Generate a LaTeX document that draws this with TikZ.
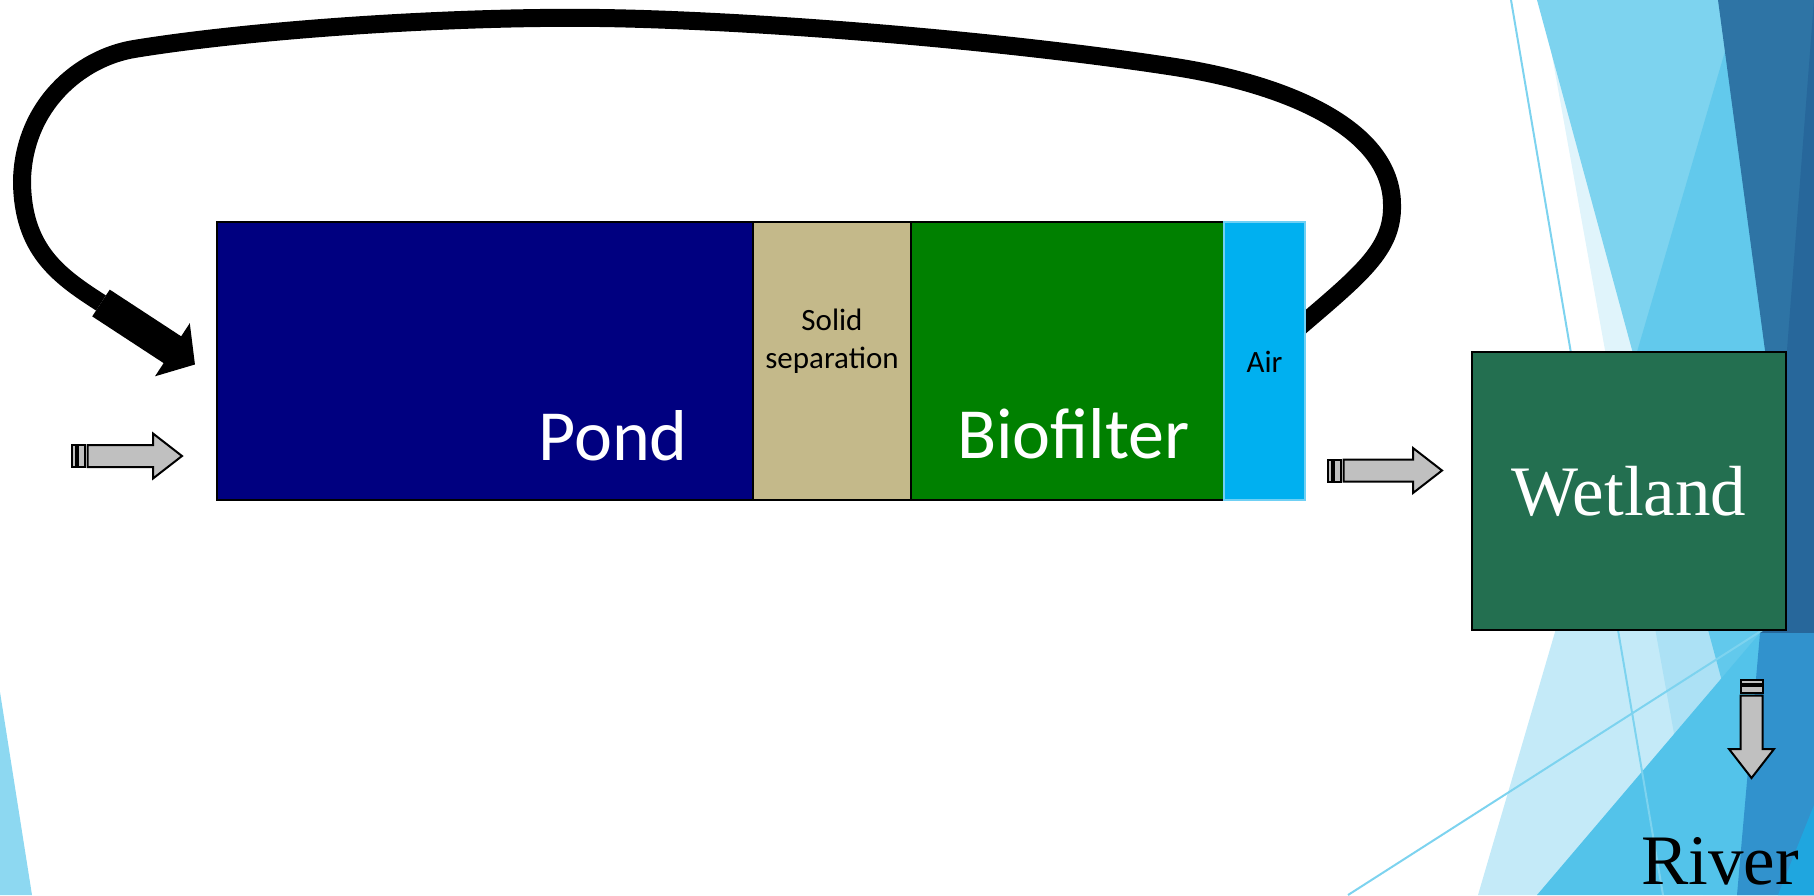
\documentclass[tikz,border=0pt]{standalone}
\usepackage{fontspec}
\newfontfamily\carlito{Carlito}
\newfontfamily\libserif{Liberation Serif}
\usetikzlibrary{arrows.meta}

\definecolor{pondblue}{HTML}{000080}
\definecolor{solidtan}{HTML}{C4B98A}
\definecolor{biogreen}{HTML}{008000}
\definecolor{aircyan}{HTML}{00B0F0}
\definecolor{airedge}{HTML}{6FD0F4}
\definecolor{wetgreen}{HTML}{236F50}
\definecolor{flowgray}{HTML}{C0C0C0}
\definecolor{facetpale}{HTML}{E0F4FB}
\definecolor{facetlight}{HTML}{7DD3EF}
\definecolor{facettint}{HTML}{13ACE4}
\definecolor{facetmid}{HTML}{53C3EA}
\definecolor{facetdark}{HTML}{2E74A5}
\definecolor{facetdeep}{HTML}{27679B}
\definecolor{facetband}{HTML}{3192CD}
\definecolor{facetbright}{HTML}{1FA6DF}
\definecolor{facetleft}{HTML}{8DD8F1}

\tikzset{
  tank/.style={draw=black, line width=2pt, inner sep=0pt, outer sep=0pt, anchor=north west, minimum height=278pt},
  bigtext/.style={font={\carlito\fontsize{72}{86}\selectfont}, white, inner sep=0pt, anchor=base},
  smalltext/.style={font={\carlito\fontsize{31}{38}\selectfont}, black, inner sep=0pt, align=center},
  seriftext/.style={font={\libserif\fontsize{71}{85}\selectfont}, inner sep=0pt},
  looptube/.style={line width=18pt, black},
  facetline/.style={draw=facetlight, line width=2pt},
  flowshape/.style={draw=black, fill=flowgray, line width=2pt},
  stripearrow/.pic={
    \draw[flowshape] (0,-11) rectangle (4.3,11);
    \draw[flowshape] (5.6,-11) rectangle (13.3,11);
    \draw[flowshape] (15.6,-11) -- ({#1-29},-11) -- ({#1-29},-22.5) -- (#1,0)
      -- ({#1-29},22.5) -- ({#1-29},11) -- (15.6,11) -- cycle;
  }
}

\begin{document}
\begin{tikzpicture}[x=1pt, y=-1pt]
    \useasboundingbox (0,0) rectangle (1814,895);

    % background facets
    \fill[facetleft] (0,692) -- (32,895) -- (0,895) -- cycle;
    \fill[facetpale] (1542,0) -- (1814,0) -- (1814,895) -- (1703,895) -- cycle;
    \fill[facetlight] (1537,0) -- (1814,0) -- (1814,895) -- (1780,895) -- cycle;
    \fill[facettint, opacity=0.25] (1740,0) -- (1814,0) -- (1814,895) -- (1478,895) -- cycle;
    \fill[facetdark] (1718,0) -- (1814,0) -- (1814,716) -- cycle;
    \fill[facetmid] (1537,895) -- (1760,633) -- (1814,633) -- (1814,895) -- cycle;
    \fill[facetdeep] (1814,0) -- (1787,350) -- (1760,633) -- (1814,633) -- cycle;
    \fill[facetband] (1760,633) -- (1814,633) -- (1814,895) -- (1737,895) -- cycle;
    \fill[facetbright] (1814,805) -- (1814,895) -- (1778,895) -- cycle;
    \draw[facetline] (1511,0) -- (1663,895);
    \draw[facetline] (1348,895) -- (1775,622);

    % return loop
    \coordinate (loopstart) at (1296,330);
    \coordinate (loopcollar) at (101,303);
    \coordinate (looptip) at (195,364.5);
    \draw[looptube] (loopstart) .. controls (1360,275) and (1393,250) .. (1392,205)
        .. controls (1392,130) and (1290,85) .. (1175,67)
        .. controls (1000,40) and (750,20) .. (600,18)
        .. controls (450,16) and (250,30) .. (134,49)
        .. controls (80,58) and (24,105) .. (22,180)
        .. controls (22,250) and (59,276) .. (loopcollar);
    \draw[looptube, line width=32pt, -{Triangle[length=27pt, width=62pt]}] (loopcollar) -- (looptip);

    % tanks
    \node[tank, fill=pondblue, minimum width=536pt] (pond) at (217,222) {};
    \node[tank, fill=solidtan, minimum width=158pt] (solid) at (pond.north east) {};
    \node[tank, fill=biogreen, minimum width=313pt] (bio) at (solid.north east) {};
    \node[tank, fill=aircyan, draw=airedge, minimum width=81pt] (air) at (bio.north east) {};

    \node[bigtext] (pondtxt) at (613,460) {Pond};
    \node[bigtext] (biotxt) at (1073.5,458) {Biofilter};
    \node[smalltext, anchor=base] (solidtxt) at (832,368) {Solid\\separation};
    \node[smalltext, anchor=base] (airtxt) at (1264.5,372) {Air};

    % flows
    \pic at (72,456) {stripearrow=110};
    \pic at (1328,470.5) {stripearrow=114};
    \pic[rotate=-90] at (1751.5,680) {stripearrow=98};

    \node[tank, fill=wetgreen, line width=2.5pt, minimum width=314pt, seriftext, text=white] (wetland) at (1472,352) {Wetland};
    \node[seriftext, anchor=base, black] (river) at (1720,884) {River};
\end{tikzpicture}
\end{document}
